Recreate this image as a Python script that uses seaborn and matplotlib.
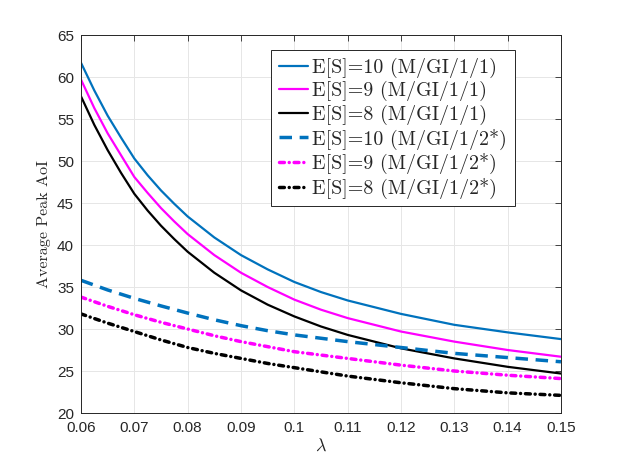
import matplotlib
matplotlib.use("Agg")
import matplotlib.pyplot as plt
import seaborn as sns
import pandas as pd

# ---- data ----
lam_fine = [0.06, 0.0625, 0.065, 0.0675, 0.07, 0.0725, 0.075, 0.0775, 0.08, 0.085,
            0.09, 0.095, 0.10, 0.105, 0.11, 0.12, 0.13, 0.14, 0.15]
es10_gi11 = [61.7, 58.4, 55.4, 52.8, 50.3, 48.3, 46.5, 44.9, 43.4, 40.9,
             38.8, 37.1, 35.6, 34.4, 33.4, 31.8, 30.5, 29.6, 28.8]
es9_gi11 = [59.7, 56.3, 53.3, 50.7, 48.1, 46.2, 44.4, 42.8, 41.3, 38.8,
            36.7, 35.0, 33.5, 32.3, 31.3, 29.7, 28.5, 27.5, 26.7]
es8_gi11 = [57.7, 54.3, 51.3, 48.6, 46.1, 44.1, 42.3, 40.7, 39.2, 36.7,
            34.6, 32.9, 31.5, 30.3, 29.3, 27.7, 26.5, 25.5, 24.7]

lam = [0.06, 0.065, 0.07, 0.075, 0.08, 0.085, 0.09, 0.095, 0.10, 0.11, 0.12, 0.13, 0.14, 0.15]
es10_gi12 = [35.8, 34.65, 33.65, 32.75, 31.9, 31.1, 30.4, 29.8, 29.3, 28.5, 27.8, 27.1, 26.6, 26.1]
es9_gi12 = [33.8, 32.7, 31.7, 30.8, 30.0, 29.2, 28.5, 27.9, 27.3, 26.5, 25.7, 25.0, 24.5, 24.1]
es8_gi12 = [31.8, 30.7, 29.7, 28.7, 27.8, 27.1, 26.5, 25.9, 25.4, 24.4, 23.6, 22.9, 22.4, 22.1]

labels = ["E[S]=10 (M/GI/1/1)", "E[S]=9 (M/GI/1/1)", "E[S]=8 (M/GI/1/1)",
          "E[S]=10 (M/GI/1/2*)", "E[S]=9 (M/GI/1/2*)", "E[S]=8 (M/GI/1/2*)"]
xticks = [0.06, 0.07, 0.08, 0.09, 0.1, 0.11, 0.12, 0.13, 0.14, 0.15]
xticklabels = ["0.06", "0.07", "0.08", "0.09", "0.1", "0.11", "0.12", "0.13", "0.14", "0.15"]
yticks = [20, 25, 30, 35, 40, 45, 50, 55, 60, 65]

sns.set_theme(style="white")
plt.rcParams["font.family"] = ["Liberation Sans", "DejaVu Sans"]
plt.rcParams["mathtext.fontset"] = "cm"

blue = "#0072BD"
mag = "#FF00FF"
blk = "#000000"

fig = plt.figure(figsize=(6.2, 4.65), dpi=100)
ax = fig.add_axes([0.1306, 0.1118, 0.7742, 0.8129])

dashdot = (0, (1.4, 1.4, 0.01, 1.4))
series = [
    (lam_fine, es10_gi11, blue, "solid", 1.6, "butt"),
    (lam_fine, es9_gi11, mag, "solid", 1.6, "butt"),
    (lam_fine, es8_gi11, blk, "solid", 1.6, "butt"),
    (lam, es10_gi12, blue, (0, (3.6, 2.2)), 2.5, "butt"),
    (lam, es9_gi12, mag, dashdot, 2.5, "round"),
    (lam, es8_gi12, blk, dashdot, 2.5, "round"),
]
for (xs, ys, c, ls, lw, cap), lab in zip(series, labels):
    df = pd.DataFrame({"x": xs, "y": ys})
    sns.lineplot(data=df, x="x", y="y", ax=ax, color=c, linewidth=lw,
                 label=lab, estimator=None, sort=False)
    ln = ax.lines[-1]
    ln.set_linestyle(ls)
    ln.set_dash_capstyle(cap)
    ln.set_solid_joinstyle("round")

ax.set_xlim(0.06, 0.15)
ax.set_ylim(20, 65)
ax.set_xticks(xticks)
ax.set_xticklabels(xticklabels)
ax.set_yticks(yticks)
ax.grid(True, color="#e6e6e6", linewidth=0.7)
ax.tick_params(direction="in", length=4, width=0.6, colors="#262626",
               labelsize=11, top=True, right=True)
ax.tick_params(axis="x", pad=6)
ax.tick_params(axis="y", pad=5)
for s in ax.spines.values():
    s.set_color("#262626")
    s.set_linewidth(0.7)

ax.set_xlabel(r"$\lambda$", fontsize=13, labelpad=2)
ax.set_ylabel("Average Peak AoI", fontfamily="cmr10", fontsize=11.5, labelpad=4)

leg = ax.legend(loc="upper right", bbox_to_anchor=(0.904, 0.96), borderaxespad=0,
                prop={"family": "cmr10", "size": 14.4}, frameon=True, fancybox=False,
                handlelength=1.45, handletextpad=0.22, labelspacing=0.17,
                borderpad=0.38, edgecolor="#262626", framealpha=1)
leg.get_frame().set_linewidth(0.7)

fig.savefig("out.png", dpi=100)
